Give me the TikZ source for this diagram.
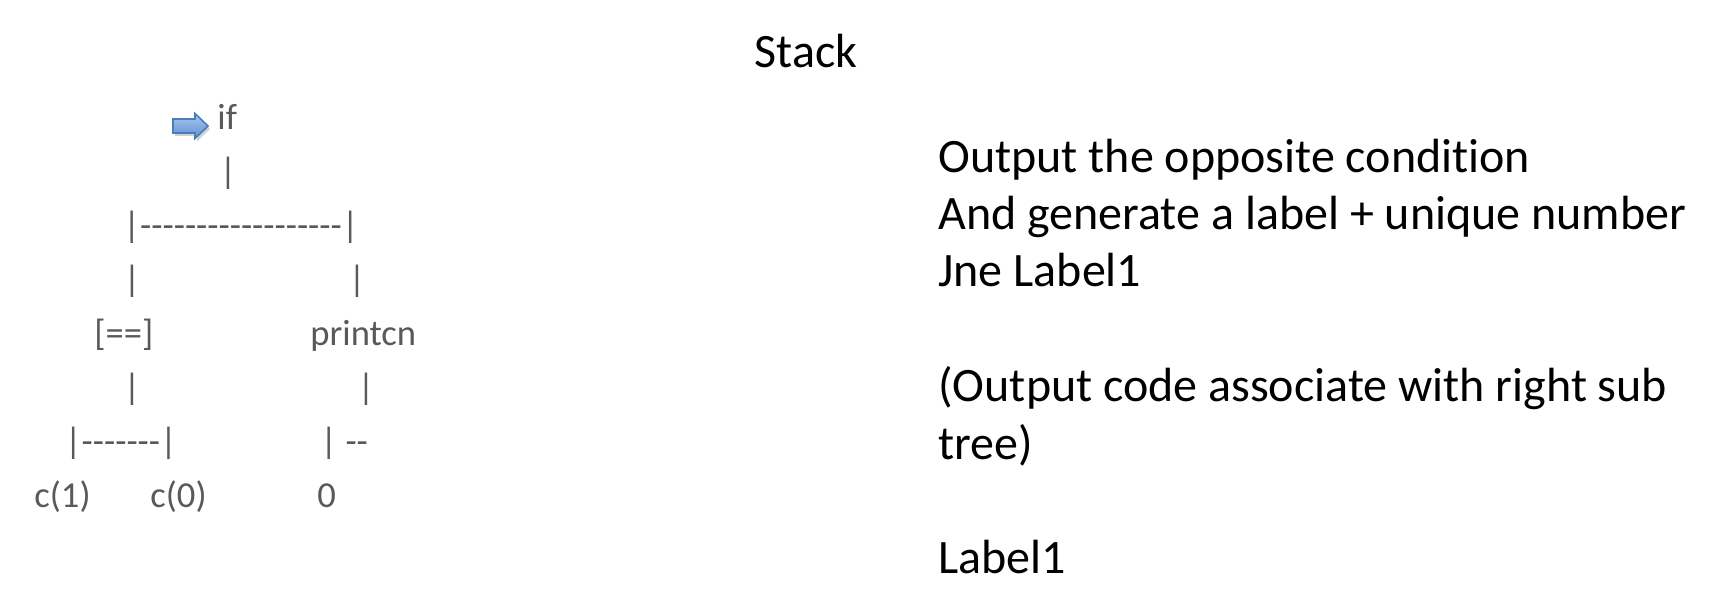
\documentclass[tikz,border=0pt]{standalone}
\usepackage{fontspec}
\setmainfont{Carlito}[Ligatures={NoCommon}]
\newfontfamily\treefont{Carlito}[Ligatures={TeXOff,NoCommon}]
\definecolor{treegray}{HTML}{595959}
\definecolor{arrowtop}{HTML}{A9C8F0}
\definecolor{arrowbot}{HTML}{5F8FD3}
\definecolor{arrowline}{HTML}{4A7EBB}
\begin{document}
\begin{tikzpicture}[x=0.5pt,y=-0.5pt,
  treetext/.style={font=\treefont\fontsize{18.3}{22}\selectfont, text=treegray, inner sep=0pt, anchor=base west},
  bartext/.style={treetext, anchor=base},
  notetext/.style={font=\fontsize{24}{29}\selectfont, text=black, inner sep=0pt, anchor=base west}]
\useasboundingbox (0,0) rectangle (1720,614);

% heading
\node[notetext, anchor=base] (title) at (806,68) {Stack};

% pointer arrow in front of the root
\fill[black, opacity=0.18] (175,122) -- (197,122) -- (197,116.5) -- (210,129) -- (197,141.5) -- (197,136) -- (175,136) -- cycle;
\draw[arrowline, line width=0.8pt, top color=arrowtop, bottom color=arrowbot]
  (173,119) -- (195,119) -- (195,113.5) -- (208,126) -- (195,138.5) -- (195,133) -- (173,133) -- cycle;

% syntax tree drawn as text rows
\node[treetext] (root) at (217,130) {if};
\node[bartext] (rootbar) at (228,184) {|};
\node[treetext] (split1) at (123,238) {|------------------|};
\node[bartext] (lbar1) at (132,292) {|};
\node[bartext] (rbar1) at (357,292) {|};
\node[treetext] (eq) at (94,346) {[==]};
\node[treetext] (printcn) at (310,346) {printcn};
\node[bartext] (lbar2) at (132,400) {|};
\node[bartext] (rbar2) at (366,400) {|};
\node[treetext] (split2) at (64.5,454) {|-------|};
\node[treetext] (neg) at (320,454) {| --};
\node[treetext] (c1) at (34,508) {c(1)};
\node[treetext] (c0) at (150,508) {c(0)};
\node[treetext] (zero) at (317,508) {0};

% notes
\node[notetext] (n1) at (938,173) {Output the opposite condition};
\node[notetext] (n2) at (938,230) {And generate a label + unique number};
\node[notetext] (n3) at (938,287) {Jne Label1};
\node[notetext] (n4) at (938,402) {(Output code associate with right sub};
\node[notetext] (n5) at (938,459.5) {tree)};
\node[notetext] (n6) at (938,574) {Label1};
\end{tikzpicture}
\end{document}
